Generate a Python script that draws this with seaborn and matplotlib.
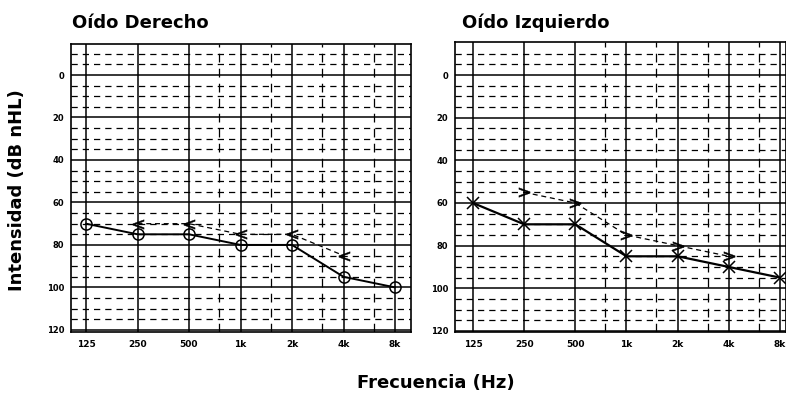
import numpy as np
import pandas as pd
import matplotlib
matplotlib.use('Agg')
import matplotlib.pyplot as plt
import seaborn as sns

# audiogram values (dB nHL)
freqs = [125, 250, 500, 1000, 2000, 4000, 8000]
freq_labels = ['125', '250', '500', '1k', '2k', '4k', '8k']
right_air = [70, 75, 75, 80, 80, 95, 100]
right_bone_freqs = [250, 500, 1000, 2000, 4000]
right_bone = [70, 70, 75, 75, 85]
left_air = [60, 70, 70, 85, 85, 90, 95]
left_bone_freqs = [250, 500, 1000, 2000, 4000]
left_bone = [55, 60, 75, 80, 85]
db_ticks = [0, 20, 40, 60, 80, 100, 120]
half_octaves = [750, 1500, 3000, 6000]


def style_audiogram(ax, xlim, ylim):
    ax.set_xscale('log', base=2)
    ax.set_xlim(*xlim)
    ax.set_ylim(*ylim)
    # solid grid every 20 dB, dashed every 5 dB
    for v in np.arange(-10, 125, 5):
        if v % 20 == 0:
            ax.axhline(v, color='black', lw=1.1, zorder=1)
        else:
            ax.axhline(v, color='black', lw=0.9, ls=(0, (5, 4)), zorder=1)
    for f in freqs:
        ax.axvline(f, color='black', lw=1.1, zorder=1)
    for f in half_octaves:
        ax.axvline(f, color='black', lw=0.9, ls=(0, (7, 5)), zorder=1)
    ax.set_xticks(freqs)
    ax.set_xticklabels(freq_labels)
    ax.minorticks_off()
    ax.set_yticks(db_ticks)
    ax.set_yticks(np.arange(-10, 125, 5), minor=True)
    ax.tick_params(axis='y', which='major', length=4, width=1, pad=1, labelsize=6)
    ax.tick_params(axis='y', which='minor', length=3, width=1)
    ax.tick_params(axis='x', length=0, pad=6, labelsize=6.5)
    for lab in ax.get_xticklabels() + ax.get_yticklabels():
        lab.set_fontweight('bold')
    for sp in ax.spines.values():
        sp.set_color('black')
        sp.set_linewidth(1.2)
    ax.set_xlabel('')
    ax.set_ylabel('')


sns.set_style('white')
plt.rcParams['font.family'] = ['DejaVu Sans']
plt.rcParams.update({'text.color': 'black', 'axes.labelcolor': 'black',
                     'xtick.color': 'black', 'ytick.color': 'black'})

fig = plt.figure(figsize=(7.86, 3.96), dpi=100)
W, H = 786, 396
ax_r = fig.add_axes([71 / W, 1 - 332 / H, 340 / W, 288 / H])
ax_l = fig.add_axes([455 / W, 1 - 332 / H, 331 / W, 290 / H])

# right ear: circles + '<'
sns.lineplot(x=freqs, y=right_air, ax=ax_r, color='black', lw=1.4, marker='o',
             markersize=8, markerfacecolor='none', markeredgecolor='black',
             markeredgewidth=1.1, zorder=3)
sns.lineplot(x=right_bone_freqs, y=right_bone, ax=ax_r, color='black', lw=0.9,
             ls=(0, (4, 3)), marker='$<$', markersize=8, markeredgewidth=0.3,
             markeredgecolor='black', markerfacecolor='black', zorder=3)
style_audiogram(ax_r, (125 * 2 ** (-15 / 51.5), 8000 * 2 ** (16 / 51.5)), (121, -14.6))

# left ear: crosses + '>'
sns.lineplot(x=freqs, y=left_air, ax=ax_l, color='black', lw=1.6, marker='x',
             markersize=9, markeredgewidth=1.1, markeredgecolor='black', zorder=3)
sns.lineplot(x=left_bone_freqs, y=left_bone, ax=ax_l, color='black', lw=0.9,
             ls=(0, (4, 3)), marker='$>$', markersize=8, markeredgewidth=0.3,
             markeredgecolor='black', markerfacecolor='black', zorder=3)
style_audiogram(ax_l, (125 * 2 ** (-18 / 51.2), 8000 * 2 ** (6 / 51.2)), (120.5, -15.5))

fig.text(72 / W, 1 - 28 / H, 'Oído Derecho', fontsize=13, fontweight='bold', va='baseline')
fig.text(462 / W, 1 - 28 / H, 'Oído Izquierdo', fontsize=13, fontweight='bold', va='baseline')
fig.text(17 / W, 1 - 190 / H, 'Intensidad (dB nHL)', fontsize=13, fontweight='bold',
         rotation=90, ha='center', va='center')
fig.text(436 / W, 1 - 383 / H, 'Frecuencia (Hz)', fontsize=13, fontweight='bold',
         ha='center', va='center')

fig.savefig('out.png', dpi=100)
